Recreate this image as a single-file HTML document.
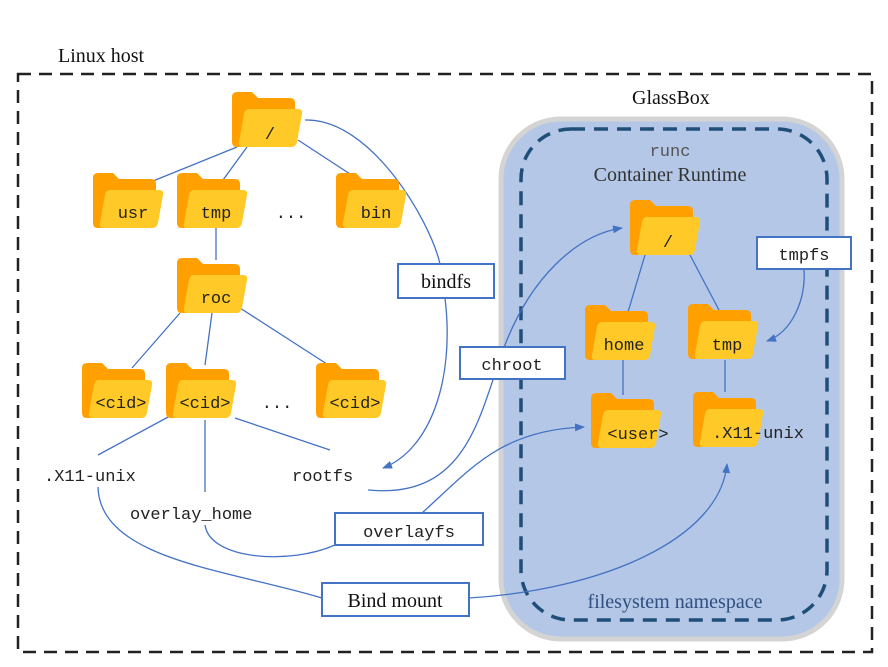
<!DOCTYPE html>
<html><head><meta charset="utf-8"><style>
html,body{margin:0;padding:0;background:#fff;}
svg{display:block}
.m{font-family:"Liberation Mono",monospace;font-size:17px;fill:#222}
.s{font-family:"Liberation Serif",serif;font-size:20px;fill:#111}
.l{stroke:#4472C4;stroke-width:1.3;fill:none}
.b{fill:#fff;stroke:#4472C4;stroke-width:2}
</style></head><body>
<svg width="888" height="667" viewBox="0 0 888 667" xmlns="http://www.w3.org/2000/svg">
<defs>
<marker id="a" markerWidth="10" markerHeight="8" refX="9" refY="4" orient="auto" markerUnits="userSpaceOnUse">
<path d="M0,0 L10,4 L0,8 Z" fill="#4472C4"/></marker>
<g id="f">
<path d="M0,5 Q0,0 5,0 H20 L26,6 H58 Q63,6 63,11 V50 Q63,55 58,55 H5 Q0,55 0,50 Z" fill="#FFA000"/>
<path d="M17,17 H66 Q71,17 70,22 L65,50 Q64,55 59,55 H10 Q6,55 7,50 L12,22 Q13,17 17,17 Z" fill="#FFCA28"/>
</g>
</defs>
<rect x="18" y="74" width="854" height="578" fill="none" stroke="#222" stroke-width="2.5" stroke-dasharray="13 8"/>
<text x="58" y="62" class="s">Linux host</text>
<text x="632" y="104" class="s">GlassBox</text>
<rect x="501" y="119" width="341" height="520" rx="60" fill="#B4C7E7" stroke="#d4d4d4" stroke-width="5"/>
<rect x="521" y="129" width="306" height="491" rx="50" fill="none" stroke="#1F4E79" stroke-width="3.5" stroke-dasharray="14 9"/>
<text x="670" y="156" class="m" text-anchor="middle" style="fill:#555">runc</text>
<text x="670" y="181" class="s" text-anchor="middle" style="fill:#333">Container Runtime</text>
<text x="675" y="608" class="s" text-anchor="middle" style="fill:#2F4F7F">filesystem namespace</text>

<path class="l" d="M237,147 L153,181 M247,147 L223,180 M298,140 L350,174 M216,228 L216,260 M180,313 L132,368 M212,313 L205,365 M240,308 L330,366 M170,416 L98,455 M205,420 L205,492 M235,418 L330,450"/>
<path class="l" d="M645,255 L628,312 M690,255 L720,312 M623,360 L623,395 M725,360 L725,392"/>

<path class="l" d="M305,120 C370,118 430,220 440,264"/>
<path class="l" d="M445,298 C455,380 430,450 383,468" marker-end="url(#a)"/>
<path class="l" d="M368,490 C470,500 480,410 505,345 S575,235 622,228" marker-end="url(#a)"/>
<path class="l" d="M422,513 C470,470 500,430 584,427" marker-end="url(#a)"/>
<path class="l" d="M205,525 C210,560 290,565 335,545"/>
<path class="l" d="M98,487 C100,560 230,570 322,598"/>
<path class="l" d="M469,598 C600,590 720,540 727,464" marker-end="url(#a)"/>
<path class="l" d="M804,269 C806,300 792,332 767,341" marker-end="url(#a)"/>

<use href="#f" x="232" y="92"/><text x="270" y="139" class="m" text-anchor="middle">/</text>
<use href="#f" x="93" y="173"/><text x="133" y="218" class="m" text-anchor="middle">usr</text>
<use href="#f" x="177" y="173"/><text x="216" y="218" class="m" text-anchor="middle">tmp</text>
<text x="291" y="218" class="m" text-anchor="middle">...</text>
<use href="#f" x="336" y="173"/><text x="376" y="218" class="m" text-anchor="middle">bin</text>
<use href="#f" x="177" y="258"/><text x="216" y="303" class="m" text-anchor="middle">roc</text>
<use href="#f" x="82" y="363"/><text x="121" y="408" class="m" text-anchor="middle">&lt;cid&gt;</text>
<use href="#f" x="166" y="363"/><text x="205" y="408" class="m" text-anchor="middle">&lt;cid&gt;</text>
<text x="277" y="408" class="m" text-anchor="middle">...</text>
<use href="#f" x="316" y="363"/><text x="355" y="408" class="m" text-anchor="middle">&lt;cid&gt;</text>

<use href="#f" x="630" y="200"/><text x="668" y="247" class="m" text-anchor="middle">/</text>
<use href="#f" x="585" y="305"/><text x="624" y="350" class="m" text-anchor="middle">home</text>
<use href="#f" x="688" y="304"/><text x="727" y="350" class="m" text-anchor="middle">tmp</text>
<use href="#f" x="591" y="393"/><text x="638" y="439" class="m" text-anchor="middle">&lt;user&gt;</text>
<use href="#f" x="693" y="392"/><text x="758" y="438" class="m" text-anchor="middle">.X11-unix</text>

<text x="44" y="481" class="m">.X11-unix</text>
<text x="130" y="519" class="m">overlay_home</text>
<text x="292" y="481" class="m">rootfs</text>

<rect class="b" x="398" y="264" width="96" height="34"/><text x="446" y="288" class="s" text-anchor="middle">bindfs</text>
<rect class="b" x="460" y="347" width="105" height="32"/><text x="512" y="370" class="m" text-anchor="middle">chroot</text>
<rect class="b" x="757" y="237" width="94" height="32"/><text x="804" y="260" class="m" text-anchor="middle">tmpfs</text>
<rect class="b" x="335" y="513" width="148" height="32"/><text x="409" y="537" class="m" text-anchor="middle">overlayfs</text>
<rect class="b" x="322" y="583" width="147" height="33"/><text x="395" y="607" class="s" text-anchor="middle">Bind mount</text>
</svg>
</body></html>
